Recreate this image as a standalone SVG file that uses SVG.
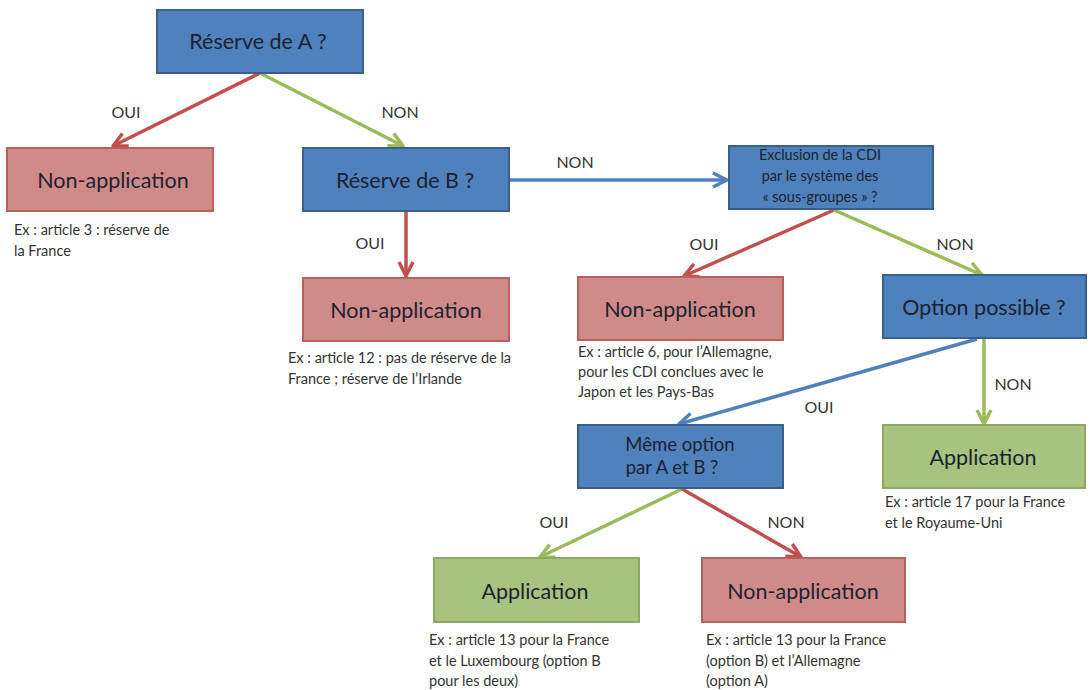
<svg xmlns="http://www.w3.org/2000/svg" width="1091" height="690" viewBox="0 0 1091 690">
  <style>
    .q { fill: #4f81bd; stroke: #3a5f8b; stroke-width: 2; }
    .no { fill: #d08b89; stroke: #b8605d; stroke-width: 2; }
    .yes { fill: #a8c280; stroke: #8ca862; stroke-width: 2; }
    .big { font-family: Lato, "Open Sans", sans-serif; font-size: 21.5px; fill: #1b2330; text-anchor: middle; }
    .mid { font-family: Lato, "Open Sans", sans-serif; font-size: 18.5px; fill: #1b2330; text-anchor: middle; }
    .sm { font-family: Lato, "Open Sans", sans-serif; font-size: 14.5px; fill: #1b2330; text-anchor: middle; }
    .lbl { font-family: Lato, "Open Sans", sans-serif; font-size: 16px; fill: #333333; text-anchor: middle; }
    .ex { font-family: Lato, "Open Sans", sans-serif; font-size: 14.5px; fill: #333333; }
    .red { stroke: #c0504d; stroke-width: 3.5; fill: none; marker-end: url(#hr); }
    .green { stroke: #9bbb59; stroke-width: 3.5; fill: none; marker-end: url(#hg); }
    .blue { stroke: #4f81bd; stroke-width: 3.5; fill: none; marker-end: url(#hb); }
  </style>
  <defs>
    <marker id="hr" viewBox="0 0 10 10" refX="9" refY="5" markerWidth="5" markerHeight="5" orient="auto" markerUnits="strokeWidth">
      <path d="M1,1 L9,5 L1,9" fill="none" stroke="#c0504d" stroke-width="2" stroke-linejoin="round"/>
    </marker>
    <marker id="hg" viewBox="0 0 10 10" refX="9" refY="5" markerWidth="5" markerHeight="5" orient="auto" markerUnits="strokeWidth">
      <path d="M1,1 L9,5 L1,9" fill="none" stroke="#9bbb59" stroke-width="2" stroke-linejoin="round"/>
    </marker>
    <marker id="hb" viewBox="0 0 10 10" refX="9" refY="5" markerWidth="5" markerHeight="5" orient="auto" markerUnits="strokeWidth">
      <path d="M1,1 L9,5 L1,9" fill="none" stroke="#4f81bd" stroke-width="2" stroke-linejoin="round"/>
    </marker>
  </defs>
  <rect width="1091" height="690" fill="#ffffff"/>

  <!-- connectors -->
  <g id="connectors">
    <line class="red" x1="260" y1="73" x2="113" y2="146"/>
    <line class="green" x1="260" y1="73" x2="403" y2="146"/>
    <line class="blue" x1="510" y1="180" x2="727" y2="180"/>
    <line class="red" x1="406" y1="212" x2="406" y2="276"/>
    <line class="red" x1="834" y1="210" x2="684" y2="276"/>
    <line class="green" x1="834" y1="210" x2="982" y2="275"/>
    <line class="blue" x1="977" y1="339" x2="679" y2="424"/>
    <line class="green" x1="984" y1="339" x2="984" y2="424"/>
    <line class="green" x1="682" y1="489" x2="540" y2="557"/>
    <line class="red" x1="682" y1="489" x2="801" y2="557"/>
    <text class="lbl" x="126" y="118">OUI</text>
    <text class="lbl" x="400" y="118">NON</text>
    <text class="lbl" x="575" y="168">NON</text>
    <text class="lbl" x="370" y="249">OUI</text>
    <text class="lbl" x="704" y="250">OUI</text>
    <text class="lbl" x="955" y="250">NON</text>
    <text class="lbl" x="1013" y="390">NON</text>
    <text class="lbl" x="819" y="413">OUI</text>
    <text class="lbl" x="554" y="528">OUI</text>
    <text class="lbl" x="786" y="528">NON</text>
  </g>

  <g id="reserve-a">
    <rect class="q" x="157" y="10" width="206" height="63"/>
    <text class="big" x="258" y="49">Réserve de A ?</text>
  </g>

  <g id="non-app-1">
    <rect class="no" x="7" y="148" width="206" height="63"/>
    <text class="big" x="113" y="188">Non-application</text>
    <text class="ex" x="14" y="235">Ex : article 3  : réserve de</text>
    <text class="ex" x="14" y="256">la France</text>
  </g>

  <g id="reserve-b">
    <rect class="q" x="303" y="148" width="206" height="63"/>
    <text class="big" x="405" y="188">Réserve de B ?</text>
  </g>

  <g id="non-app-2">
    <rect class="no" x="303" y="278" width="206" height="63"/>
    <text class="big" x="406" y="318">Non-application</text>
    <text class="ex" x="288" y="363">Ex : article 12 : pas de réserve de la</text>
    <text class="ex" x="288" y="384">France ; réserve de l’Irlande</text>
  </g>

  <g id="exclusion">
    <rect class="q" x="729" y="146" width="204" height="63"/>
    <text class="sm" x="820" y="160">Exclusion  de la CDI</text>
    <text class="sm" x="820" y="181">par le système  des</text>
    <text class="sm" x="820" y="202">« sous-groupes  » ?</text>
  </g>

  <g id="non-app-3">
    <rect class="no" x="578" y="277" width="205" height="63"/>
    <text class="big" x="680" y="317">Non-application</text>
    <text class="ex" x="578" y="357">Ex : article 6, pour  l’Allemagne,</text>
    <text class="ex" x="578" y="377">pour  les CDI conclues  avec le</text>
    <text class="ex" x="578" y="397">Japon  et les Pays-Bas</text>
  </g>

  <g id="option-possible">
    <rect class="q" x="883" y="275" width="203" height="63"/>
    <text class="big" x="984" y="315">Option possible ?</text>
  </g>

  <g id="meme-option">
    <rect class="q" x="578" y="425" width="205" height="63"/>
    <text class="mid" x="680" y="451">Même option</text>
    <text class="mid" x="672" y="474">par A et B ?</text>
  </g>

  <g id="application-1">
    <rect class="yes" x="883" y="425" width="202" height="63"/>
    <text class="big" x="983" y="465">Application</text>
    <text class="ex" x="885" y="507">Ex : article 17 pour  la France</text>
    <text class="ex" x="885" y="528">et le Royaume-Uni</text>
  </g>

  <g id="application-2">
    <rect class="yes" x="434" y="558" width="205" height="64"/>
    <text class="big" x="535" y="599">Application</text>
    <text class="ex" x="429" y="645">Ex : article 13 pour  la France</text>
    <text class="ex" x="429" y="666">et le Luxembourg  (option B</text>
    <text class="ex" x="429" y="686">pour  les deux)</text>
  </g>

  <g id="non-app-4">
    <rect class="no" x="702" y="558" width="203" height="64"/>
    <text class="big" x="803" y="599">Non-application</text>
    <text class="ex" x="706" y="645">Ex : article 13 pour  la France</text>
    <text class="ex" x="706" y="666">(option  B) et l’Allemagne</text>
    <text class="ex" x="706" y="686">(option  A)</text>
  </g>
</svg>
